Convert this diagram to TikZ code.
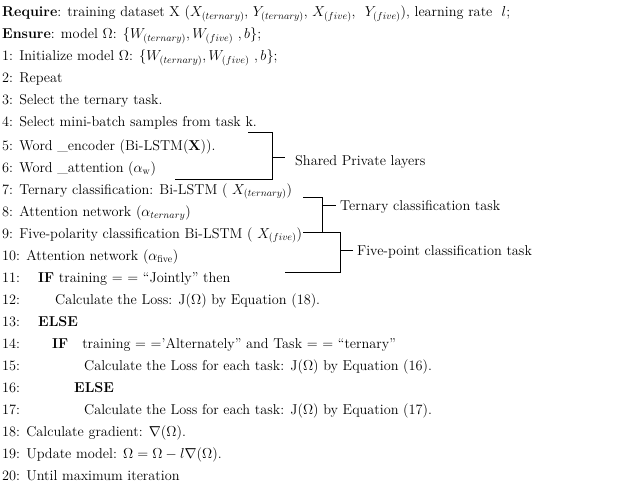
\documentclass[tikz,border=0pt]{standalone}
\usepackage{amsmath}
\begin{document}
\begin{tikzpicture}[x=1pt,y=-1pt,
  t/.style={anchor=base west,inner sep=0pt,font=\fontsize{14.3}{17}\selectfont},
  br/.style={line width=0.9pt}]
\useasboundingbox (0,0) rectangle (628,497);
\node[t] (r) at (2,17) {\textbf{Require}: training dataset X ($X_{(ternary)}$, $Y_{(ternary)}$, $X_{(five)}$,\ \ $Y_{(five)}$), learning rate\ \ $l$;};
\node[t] (e) at (2,39) {\textbf{Ensure}: model $\Omega$: $\{W_{(ternary)}, W_{(five)}\ , b\}$;};
\node[t] (l1) at (2,61) {1: Initialize model $\Omega$: $\{W_{(ternary)}, W_{(five)}\ , b\}$;};
\node[t] (l2) at (2,83) {2: Repeat};
\node[t] (l3) at (2,105) {3: Select the ternary task.};
\node[t] (l4) at (2,127) {4: Select mini-batch samples from task k.};
\node[t] (l5) at (2,150) {5: Word \_encoder (Bi-LSTM(\textbf{X})).};
\node[t] (l6) at (2,172) {6: Word \_attention ($\mathrm{\alpha_w}$)};
\node[t] (l7) at (2,194) {7: Ternary classification: Bi-LSTM ( $X_{(ternary)}$)};
\node[t] (l8) at (2,216) {8: Attention network ($\alpha_{ternary}$)};
\node[t] (l9) at (2,238) {9: Five-polarity classification Bi-LSTM ( $X_{(five)}$)};
\node[t] (l10) at (2,260) {10: Attention network ($\alpha_{\mathrm{five}}$)};
\foreach \n/\y in {11/282,12/304,13/326,14/348,15/370,16/392,17/414}
  \node[t] (n\n) at (2,\y) {\n:};
\node[t] (c11) at (38,282) {\textbf{IF} training = = ``Jointly'' then};
\node[t] (c12) at (55,304) {Calculate the Loss: J($\Omega$) by Equation (18).};
\node[t] (c13) at (38,326) {\textbf{ELSE}};
\node[t] (c14) at (52,348) {\textbf{IF}\ \ \ training = =’Alternately'' and Task = = ``ternary''};
\node[t] (c15) at (84,370) {Calculate the Loss for each task: J($\Omega$) by Equation (16).};
\node[t] (c16) at (74,392) {\textbf{ELSE}};
\node[t] (c17) at (84,414) {Calculate the Loss for each task: J($\Omega$) by Equation (17).};
\node[t] (l18) at (2,436) {18: Calculate gradient: $\nabla(\Omega)$.};
\node[t] (l19) at (2,458) {19: Update model: $\Omega = \Omega - l\nabla(\Omega)$.};
\node[t] (l20) at (2,480) {20: Until maximum iteration};
% brackets
\node[t] (s1) at (295,165) {Shared Private layers};
\draw[br] (248,132) -| (272,179) -- (175,179);
\draw[br] (272,157) -- ++(13,0);
\node[t] (s2) at (340,210) {Ternary classification task};
\draw[br] (303,197) -| (322,232) -- (303,232);
\draw[br] (322,205) -- ++(14,0);
\node[t] (s3) at (357,255) {Five-point classification task};
\draw[br] (303,232) -| (340,272) -- (285,272);
\draw[br] (340,250) -- ++(13,0);
\end{tikzpicture}
\end{document}
